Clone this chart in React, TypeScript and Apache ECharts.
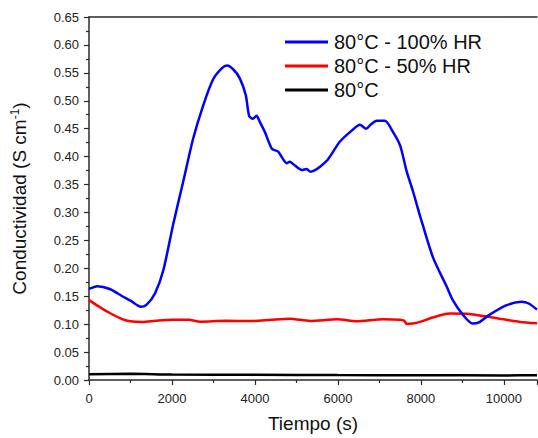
import React, { useEffect, useRef } from "react";
import * as echarts from "echarts";

const blueT = [0, 200, 500, 800, 1000, 1250, 1390, 1590, 1790, 2030, 2270, 2510, 2750, 2990, 3200, 3330, 3480, 3630, 3780, 3860, 3950, 4040, 4100, 4240, 4410, 4560, 4770, 4840, 4950, 5130, 5250, 5330, 5450, 5570, 5760, 6050, 6340, 6530, 6680, 6800, 6940, 7130, 7330, 7500, 7660, 7810, 7980, 8290, 8630, 8770, 9010, 9250, 9400, 9660, 10070, 10430, 10600, 10800];
const blueV = [0.163, 0.168, 0.163, 0.150, 0.142, 0.131, 0.135, 0.155, 0.196, 0.279, 0.355, 0.432, 0.491, 0.538, 0.558, 0.563, 0.556, 0.541, 0.51, 0.473, 0.468, 0.473, 0.465, 0.444, 0.414, 0.409, 0.388, 0.391, 0.385, 0.376, 0.378, 0.373, 0.376, 0.382, 0.395, 0.427, 0.447, 0.457, 0.450, 0.458, 0.464, 0.464, 0.444, 0.42, 0.373, 0.338, 0.294, 0.220, 0.166, 0.143, 0.117, 0.101, 0.103, 0.117, 0.134, 0.140, 0.137, 0.126];

const redT = [0, 250, 500, 800, 1000, 1300, 1600, 2000, 2400, 2680, 3300, 3950, 4400, 4840, 5330, 5980, 6450, 7090, 7500, 7600, 7660, 7800, 7980, 8290, 8700, 9110, 9500, 9900, 10390, 10800];
const redV = [0.143, 0.131, 0.12, 0.109, 0.105, 0.104, 0.106, 0.108, 0.108, 0.1045, 0.106, 0.1057, 0.108, 0.1098, 0.1057, 0.1086, 0.105, 0.109, 0.108, 0.106, 0.1004, 0.101, 0.104, 0.112, 0.119, 0.1187, 0.1146, 0.1098, 0.104, 0.1015];

const blackT = [0, 1000, 2000, 4000, 6000, 8000, 10000, 10800];
const blackV = [0.0105, 0.011, 0.0098, 0.0095, 0.0088, 0.0085, 0.0082, 0.0085];

const seriesNames = ["80°C - 100% HR", "80°C - 50% HR", "80°C"];
const seriesColors = ["#0000ff", "#ff0000", "#000000"];

const xTicks = [0, 2000, 4000, 6000, 8000, 10000];

const zip = (t: number[], v: number[]) => t.map((x, i) => [x, v[i]]);

export default function App() {
  const ref = useRef<HTMLDivElement>(null);
  useEffect(() => {
    if (!ref.current) return;
    const chart = echarts.init(ref.current, null, { renderer: "svg" });
    const font = "Liberation Sans, Arial, sans-serif";
    const axisColor = "#2a2a2a";
    const datasets = [zip(blueT, blueV), zip(redT, redV), zip(blackT, blackV)];
    chart.setOption({
      animation: false,
      backgroundColor: "#fff",
      grid: { left: 89, top: 17, right: 1, bottom: 54, containLabel: false },
      legend: {
        left: 280,
        top: 26,
        orient: "vertical",
        itemWidth: 43,
        itemHeight: 3,
        itemGap: 2,
        icon: "rect",
        data: seriesNames.map((n, i) => ({ name: n, itemStyle: { color: seriesColors[i] } })),
        textStyle: { fontFamily: font, fontSize: 20, color: "#111", lineHeight: 22, padding: [0, 0, 0, 1] },
      },
      xAxis: [
        {
          type: "value",
          min: 0,
          max: 10800,
          interval: 2000,
          name: "Tiempo (s)",
          nameLocation: "middle",
          nameGap: 34,
          nameTextStyle: { fontFamily: font, fontSize: 19, color: "#111" },
          axisLine: { lineStyle: { color: axisColor, width: 1.5 } },
          axisTick: { show: true, length: 5, lineStyle: { color: axisColor, width: 1.2 } },
          minorTick: { show: true, splitNumber: 2, length: 3, lineStyle: { color: axisColor, width: 1.2 } },
          splitLine: { show: false },
          axisLabel: {
            fontFamily: font,
            fontSize: 13,
            color: "#222",
            margin: 12,
            showMaxLabel: false,
            formatter: (v: number) => (xTicks.includes(v) ? String(v) : ""),
          },
        },
        {
          type: "value",
          position: "top",
          min: 0,
          max: 10800,
          axisLine: { show: true, onZero: false, lineStyle: { color: axisColor, width: 1.5 } },
          axisTick: { show: false },
          axisLabel: { show: false },
          splitLine: { show: false },
        },
      ],
      yAxis: {
        type: "value",
        min: 0,
        max: 0.65,
        interval: 0.05,
        name: "Conductividad (S cm{sup|-1})",
        nameLocation: "middle",
        nameGap: 59,
        nameTextStyle: {
          fontFamily: font,
          fontSize: 19,
          color: "#111",
          rich: { sup: { fontFamily: font, fontSize: 12, color: "#111", verticalAlign: "top", padding: [0, 0, 9, 0] } },
        },
        axisLine: { show: true, lineStyle: { color: axisColor, width: 1.5 } },
        axisTick: { show: true, length: 5, lineStyle: { color: axisColor, width: 1.2 } },
        minorTick: { show: true, splitNumber: 2, length: 3, lineStyle: { color: axisColor, width: 1.2 } },
        splitLine: { show: false },
        axisLabel: {
          fontFamily: font,
          fontSize: 13,
          color: "#222",
          margin: 10,
          formatter: (v: number) => v.toFixed(2),
        },
      },
      series: seriesNames.map((n, i) => ({
        name: n,
        type: "line",
        data: datasets[i],
        symbol: "none",
        smooth: 0.25,
        lineStyle: { color: seriesColors[i], width: 2.5 },
        itemStyle: { color: seriesColors[i] },
        z: 3 - i,
      })),
    });
    return () => chart.dispose();
  }, []);
  return <div ref={ref} style={{ width: 538, height: 438, position: "absolute", left: 0, top: 0 }} />;
}
